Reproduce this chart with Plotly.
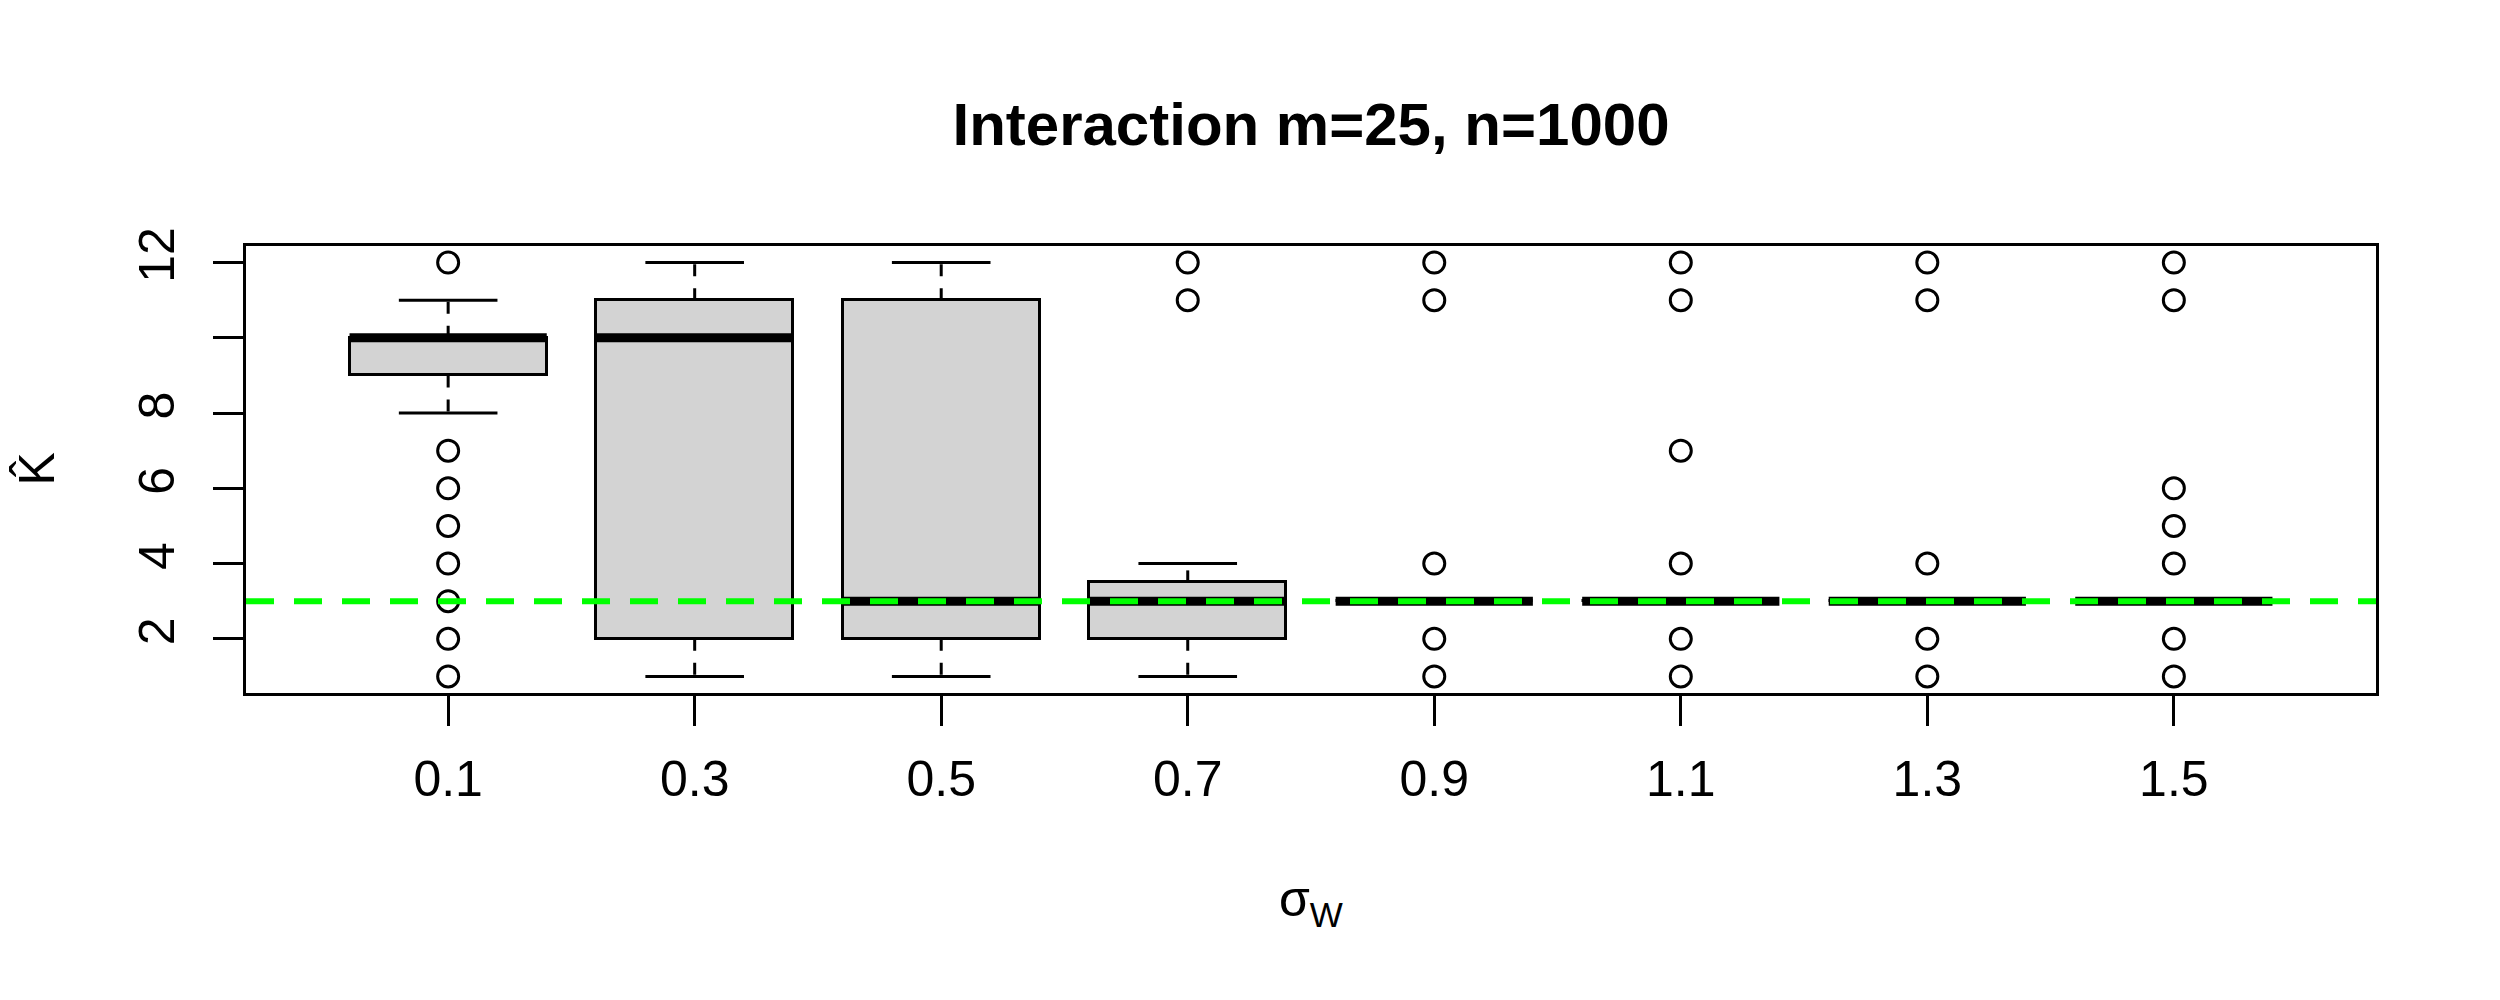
import plotly.graph_objects as go

# boxplot summary, one entry per sigma_W
sigma_labels = ["0.1", "0.3", "0.5", "0.7", "0.9", "1.1", "1.3", "1.5"]
positions = [1, 2, 3, 4, 5, 6, 7, 8]
q1 = [9, 2, 2, 2, 3, 3, 3, 3]
median = [10, 10, 3, 3, 3, 3, 3, 3]
q3 = [10, 11, 11, 3.5, 3, 3, 3, 3]
whisk_lo = [8, 1, 1, 1, 3, 3, 3, 3]
whisk_hi = [11, 12, 12, 4, 3, 3, 3, 3]
outliers = [
    [12, 7, 6, 5, 4, 3, 2, 1],
    [],
    [],
    [12, 11],
    [12, 11, 4, 2, 1],
    [12, 11, 7, 4, 2, 1],
    [12, 11, 4, 2, 1],
    [12, 11, 6, 5, 4, 2, 1],
]
true_k = 3
y_ticks = [2, 4, 6, 8, 12]
y_minor = [10]  # tick mark drawn, label dropped as in the original

box_w = 0.8
FONT = "Liberation Sans, Arial, sans-serif"
# the page body adds an 8px offset, so the figure is 8px smaller
OFF = 8
W, H = 2500 - OFF, 1000 - OFF
L, R, T, B = 246 - OFF, 124, 246 - OFF, 307

fig = go.Figure()

# boxes
fig.add_trace(go.Bar(
    x=positions, y=[b - a for a, b in zip(q1, q3)], base=q1, width=box_w,
    marker=dict(color="#D3D3D3", line=dict(color="black", width=3)),
    showlegend=False, hoverinfo="skip"))

# whiskers (dashed) and staples
wx, wy, sx, sy = [], [], [], []
for p, a, b, lo, hi in zip(positions, q1, q3, whisk_lo, whisk_hi):
    wx += [p, p, None, p, p, None]
    wy += [b, hi, None, a, lo, None]
    sx += [p - box_w / 4, p + box_w / 4, None, p - box_w / 4, p + box_w / 4, None]
    sy += [hi, hi, None, lo, lo, None]
fig.add_trace(go.Scatter(x=wx, y=wy, mode="lines",
                         line=dict(color="black", width=3, dash="12px,12px"),
                         showlegend=False, hoverinfo="skip"))
fig.add_trace(go.Scatter(x=sx, y=sy, mode="lines",
                         line=dict(color="black", width=3),
                         showlegend=False, hoverinfo="skip"))

# medians
mx, my = [], []
for p, m in zip(positions, median):
    mx += [p - box_w / 2, p + box_w / 2, None]
    my += [m, m, None]
fig.add_trace(go.Scatter(x=mx, y=my, mode="lines",
                         line=dict(color="black", width=9),
                         showlegend=False, hoverinfo="skip"))

# outliers
ox, oy = [], []
for p, vals in zip(positions, outliers):
    ox += [p] * len(vals)
    oy += vals
fig.add_trace(go.Scatter(x=ox, y=oy, mode="markers",
                         marker=dict(symbol="circle-open", size=21, color="black",
                                     line=dict(color="black", width=3)),
                         showlegend=False, hoverinfo="skip"))

fig.add_shape(type="line", xref="paper", x0=0, x1=1, yref="y", y0=true_k, y1=true_k,
              line=dict(color="#00FF00", width=6, dash="28px,20px"), layer="above")

plot_w = W - L - R
plot_h = H - T - B

fig.update_layout(
    width=W, height=H,
    margin=dict(l=L, r=R, t=T, b=B),
    paper_bgcolor="white", plot_bgcolor="white",
    font=dict(family=FONT, size=50, color="black"),
    title=dict(text="<b>Interaction m=25, n=1000</b>", font=dict(size=60),
               x=(L + plot_w / 2) / W, xanchor="center",
               y=1 - (124 - OFF) / H, yanchor="middle", yref="container"),
    bargap=0,
)
fig.update_xaxes(range=[0.18, 8.82], tickvals=positions, ticktext=sigma_labels,
                 ticks="outside", ticklen=30, tickwidth=3, tickcolor="black",
                 showline=True, linewidth=3, linecolor="black", mirror=True,
                 showgrid=False, zeroline=False, ticklabelstandoff=10)
fig.update_yaxes(range=[0.56, 12.44], tickvals=y_ticks, tickangle=-90,
                 ticks="outside", ticklen=30, tickwidth=3, tickcolor="black",
                 minor=dict(tickmode="array", tickvals=y_minor, ticks="outside",
                            ticklen=30, tickwidth=3, tickcolor="black", showgrid=False),
                 showline=True, linewidth=3, linecolor="black", mirror=True,
                 showgrid=False, zeroline=False, ticklabelstandoff=19)

fig.add_annotation(text="σ<sub>W</sub>", xref="paper", yref="paper",
                   x=0.5, y=-(902 - 693) / plot_h, xanchor="center", yanchor="middle",
                   showarrow=False, font=dict(size=50))
fig.add_annotation(text="K̂", xref="paper", yref="paper",
                   x=-(246 - 36) / plot_w, y=0.5, xanchor="center", yanchor="middle",
                   textangle=-90, showarrow=False, font=dict(size=50))

fig.write_html("out.html")
